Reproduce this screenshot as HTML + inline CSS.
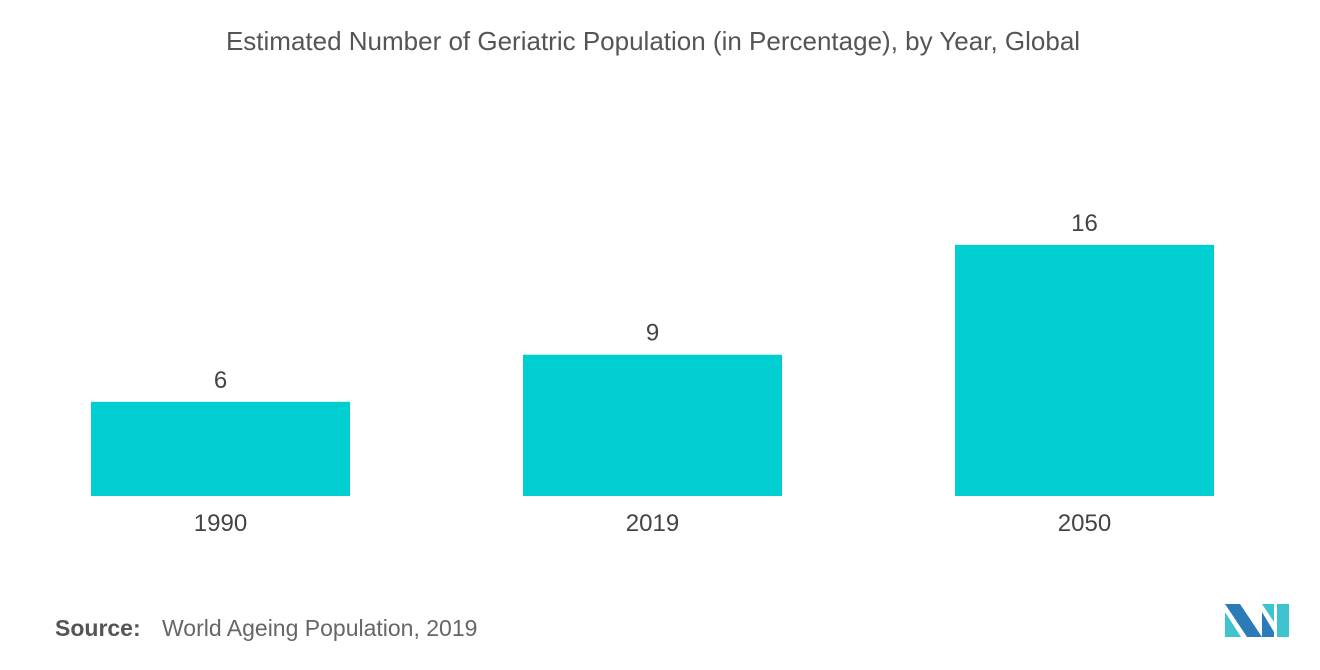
<!DOCTYPE html>
<html><head><meta charset="utf-8"><style>
body{margin:0;width:1320px;height:665px;background:#fff;font-family:"Liberation Sans",sans-serif;overflow:hidden}
</style></head><body>
<svg width="1320" height="665">
<text x="653" y="50" text-anchor="middle" font-size="26" fill="#555">Estimated Number of Geriatric Population (in Percentage), by Year, Global</text>
<g id="bars"></g>
<text x="55" y="636" font-size="23" fill="#555" font-weight="bold">Source:</text>
<text x="162" y="636" font-size="23" fill="#666">World Ageing Population, 2019</text>
<g>
<polygon points="1225,604 1240,604 1262,637 1247,637" fill="#2b7bb9"/>
<polygon points="1225,612 1225,637 1241,637" fill="#3fc3cf"/>
<polygon points="1262,604 1274,604 1274,622" fill="#3fc3cf"/>
<polygon points="1277,604 1289,604 1289,637 1277,637" fill="#3fc3cf"/>
<polygon points="1262,612 1274,632 1274,637 1262,637" fill="#2b7bb9"/>
</g>
</svg>
<script>
const categories=["1990","2019","2050"];
const values=[6,9,16];
const g=document.getElementById('bars');
const ns="http://www.w3.org/2000/svg";
const base=496, scale=15.7, left=91, step=432, bw=259;
function y(v){return base-v*scale;}
function x(i){return left+i*step;}
categories.forEach((c,i)=>{
 const r=document.createElementNS(ns,'rect');
 r.setAttribute('x',x(i));r.setAttribute('y',y(values[i]));
 r.setAttribute('width',bw);r.setAttribute('height',base-y(values[i]));
 r.setAttribute('fill','#00ced1');
 
 
 g.appendChild(r);
 const t=document.createElementNS(ns,'text');
 t.setAttribute('x',x(i)+bw/2);t.setAttribute('y',y(values[i])-14);
 t.setAttribute('text-anchor','middle');t.setAttribute('font-size','24');t.setAttribute('fill','#444');
 t.textContent=values[i];
 
 
 g.appendChild(t);
 const l=document.createElementNS(ns,'text');
 l.setAttribute('x',x(i)+bw/2);l.setAttribute('y',531);
 l.setAttribute('text-anchor','middle');l.setAttribute('font-size','24');l.setAttribute('fill','#444');
 l.textContent=c;
 
 
 g.appendChild(l);
});
</script>
</body></html>
